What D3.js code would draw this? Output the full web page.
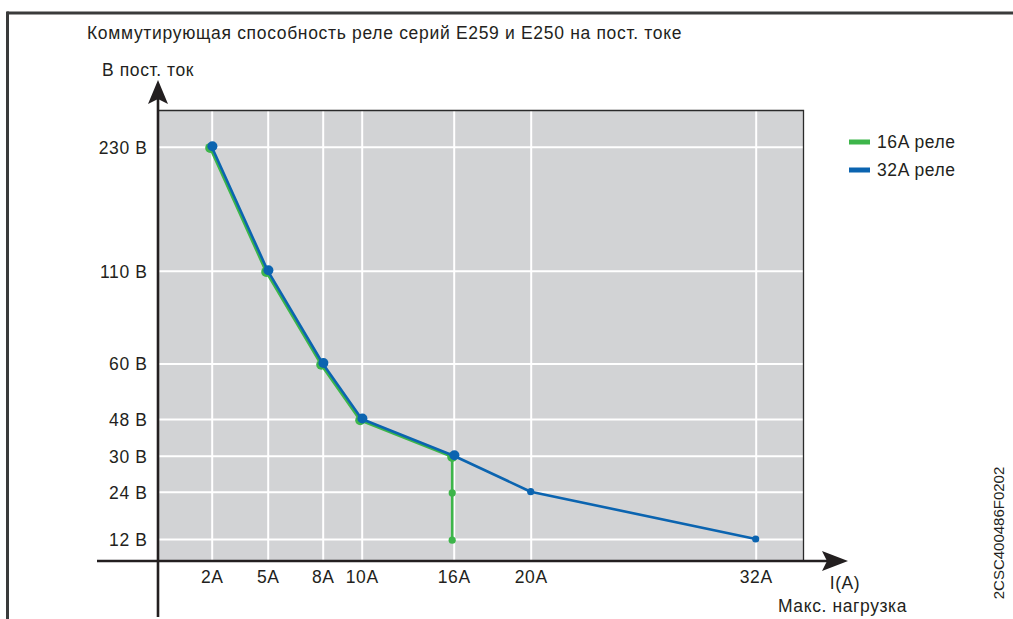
<!DOCTYPE html>
<html>
<head>
<meta charset="utf-8">
<script src="https://cdn.jsdelivr.net/npm/d3@7"></script>
<style>
  html, body { margin: 0; padding: 0; background: #fff; }
  svg { display: block; }
  text { font-family: "Liberation Sans", Arial, Helvetica, sans-serif; fill: #231f20; }
</style>
</head>
<body>
<svg id="chart" width="1013" height="619"></svg>
<script>
// ---- data ----
const ampTicks = [2, 5, 8, 10, 16, 20, 32];
const ampLabels = ["2A", "5A", "8A", "10A", "16A", "20A", "32A"];
const voltTicks = [230, 110, 60, 48, 30, 24, 12];
const voltLabels = ["230 В", "110 В", "60 В", "48 В", "30 В", "24 В", "12 В"];
const relay16Amps = [2, 5, 8, 10, 16, 16, 16];
const relay16Volts = [230, 110, 60, 48, 30, 24, 12];
const relay32Amps = [2, 5, 8, 10, 16, 20, 32];
const relay32Volts = [230, 110, 60, 48, 30, 24, 12];
const seriesNames = ["16A реле", "32A реле"];
const titleText = "Коммутирующая способность реле серий E259 и E250 на пост. токе";
const yTitle = "В пост. ток";
const xTitle = "I(A)";
const xSubTitle = "Макс. нагрузка";
const docCode = "2CSC400486F0202";

// ---- layout (non-uniform axis positions as drawn) ----
const plot = { left: 159, right: 803, top: 110, bottom: 560 };
const xGridPx = [211.7, 267.7, 322.7, 361.7, 453.7, 530.7, 755.7];
const yGridPx = [146.7, 270.7, 363.5, 419, 455.7, 491.7, 539];
const colors = { g: "#3db54a", b: "#0b64b0", ink: "#231f20", plot: "#d2d3d5" };
const FS = "17.5px", LS = "0.6px";

const x = d3.scaleLinear().domain(ampTicks).range(xGridPx);
const y = d3.scaleLinear().domain(voltTicks).range(yGridPx);

const svg = d3.select("#chart");

// frame
svg.append("line").attr("x1", 7).attr("x2", 1013).attr("y1", 13).attr("y2", 13)
  .attr("stroke", "#3a3b3b").attr("stroke-width", 3);
svg.append("line").attr("x1", 7.5).attr("x2", 7.5).attr("y1", 11.5).attr("y2", 619)
  .attr("stroke", "#3a3b3b").attr("stroke-width", 3);

// plot background
svg.append("rect").attr("x", plot.left).attr("y", plot.top)
  .attr("width", plot.right - plot.left).attr("height", plot.bottom - plot.top)
  .attr("fill", colors.plot);

// grid
const gx = svg.append("g").attr("transform", `translate(0,${plot.bottom})`)
  .call(d3.axisBottom(x).tickValues(ampTicks).tickSize(-(plot.bottom - plot.top)).tickFormat(""));
gx.select(".domain").remove();
gx.selectAll("line").attr("stroke", "#ffffff").attr("stroke-width", 2);

const gy = svg.append("g").attr("transform", `translate(${plot.left},0)`)
  .call(d3.axisLeft(y).tickValues(voltTicks).tickSize(-(plot.right - plot.left)).tickFormat(""));
gy.select(".domain").remove();
gy.selectAll("line").attr("stroke", "#ffffff").attr("stroke-width", 2);

// plot top & right borders
svg.append("path")
  .attr("d", `M${plot.left},${plot.top + 0.5}H${plot.right + 0.5}V${plot.bottom}`)
  .attr("fill", "none").attr("stroke", "#2a2a2a").attr("stroke-width", 1.3);

// tick labels
const xl = svg.append("g").attr("transform", `translate(0,${plot.bottom})`)
  .call(d3.axisBottom(x).tickValues(ampTicks).tickSize(0).tickPadding(0)
    .tickFormat((d, i) => ampLabels[i]));
xl.select(".domain").remove();
xl.selectAll("text").attr("dy", null).attr("y", 23)
  .style("font-size", FS).style("letter-spacing", LS).attr("fill", colors.ink)
  .attr("font-family", null);

const yl = svg.append("g").attr("transform", `translate(147.5,0)`)
  .call(d3.axisLeft(y).tickValues(voltTicks).tickSize(0).tickPadding(0)
    .tickFormat((d, i) => voltLabels[i]));
yl.select(".domain").remove();
yl.selectAll("text").attr("dy", "0.36em")
  .style("font-size", FS).style("letter-spacing", LS).attr("fill", colors.ink)
  .attr("font-family", null);

// axes lines with arrows
svg.append("line").attr("x1", 97).attr("x2", 828).attr("y1", 561).attr("y2", 561)
  .attr("stroke", colors.ink).attr("stroke-width", 2.6);
svg.append("path").attr("d", "M848,561 L822,551 L827,561 L822,571 Z").attr("fill", colors.ink);
svg.append("line").attr("x1", 158).attr("x2", 158).attr("y1", 617).attr("y2", 98)
  .attr("stroke", colors.ink).attr("stroke-width", 2.6);
svg.append("path").attr("d", "M158,80 L148,104 L158,99 L168,104 Z").attr("fill", colors.ink);

// series
const s16 = relay16Amps.map((a, i) => ({ a, v: relay16Volts[i], big: i < 5 }));
const s32 = relay32Amps.map((a, i) => ({ a, v: relay32Volts[i], big: i < 5 }));
const line = d3.line().x(d => x(d.a)).y(d => y(d.v));

const g16 = svg.append("g").attr("transform", "translate(-1.5,1.2)");
g16.append("path").datum(s16).attr("d", line).attr("fill", "none")
  .attr("stroke", colors.g).attr("stroke-width", 2.6).attr("stroke-linejoin", "round");
g16.selectAll("circle").data(s16).join("circle")
  .attr("cx", d => x(d.a)).attr("cy", d => y(d.v)).attr("r", d => d.big ? 5 : 3.6)
  .attr("fill", colors.g);

const g32 = svg.append("g");
g32.append("path").datum(s32).attr("d", line).attr("fill", "none")
  .attr("stroke", colors.b).attr("stroke-width", 2.6).attr("stroke-linejoin", "round");
g32.selectAll("circle").data(s32).join("circle")
  .attr("cx", d => x(d.a)).attr("cy", d => y(d.v)).attr("r", d => d.big ? 5 : 3.6)
  .attr("fill", colors.b)
  .attr("transform", d => d.big ? "translate(0.7,-0.5)" : null);

// legend
const legend = svg.append("g").attr("transform", "translate(849,142)");
[colors.g, colors.b].forEach((c, i) => {
  const row = legend.append("g").attr("transform", `translate(0,${i * 28})`);
  row.append("rect").attr("x", 0).attr("y", -2.5).attr("width", 21).attr("height", 5).attr("fill", c);
  row.append("text").attr("x", 28).attr("dy", "0.36em").style("font-size", FS)
    .style("letter-spacing", LS).text(seriesNames[i]);
});

// titles
svg.append("text").attr("x", 87).attr("y", 39).style("font-size", FS)
  .style("letter-spacing", "0.68px").text(titleText);
svg.append("text").attr("x", 102).attr("y", 76).style("font-size", FS)
  .style("letter-spacing", LS).text(yTitle);
svg.append("text").attr("x", 845).attr("y", 589).attr("text-anchor", "middle").style("font-size", FS)
  .style("letter-spacing", LS).text(xTitle);
svg.append("text").attr("x", 778).attr("y", 612).style("font-size", FS)
  .style("letter-spacing", LS).text(xSubTitle);
svg.append("text").attr("transform", "translate(1004,533) rotate(-90)")
  .attr("text-anchor", "middle").style("font-size", "15px").text(docCode);
</script>
</body>
</html>
